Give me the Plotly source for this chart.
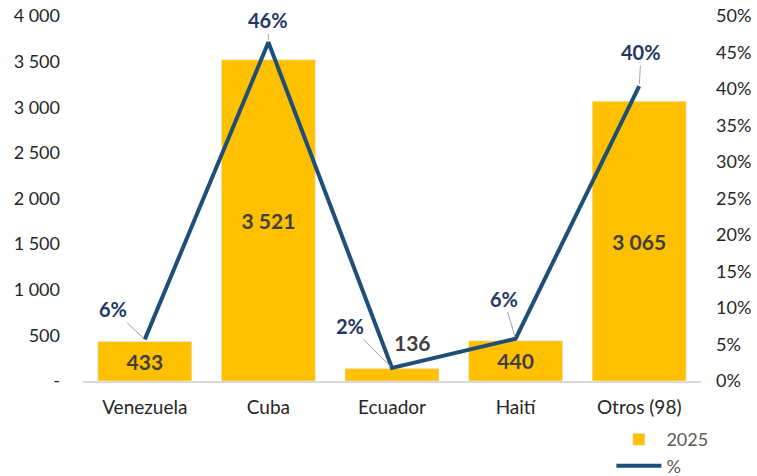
import plotly.graph_objects as go

countries = ['Venezuela', 'Cuba', 'Ecuador', 'Haití', 'Otros (98)']
values_2025 = [433, 3521, 136, 440, 3065]
share_pct = [5.7, 46.4, 1.8, 5.8, 40.4]
bar_labels = ['433', '3 521', '136', '440', '3 065']

left_ticks = [0, 500, 1000, 1500, 2000, 2500, 3000, 3500, 4000]
left_ticktext = ['-', '500', '1 000', '1 500', '2 000', '2 500', '3 000', '3 500', '4 000']

YELLOW = '#FFC000'
NAVY = '#1F4E79'
LABEL_NAVY = '#1F3864'
FONT = 'Lato'

fig = go.Figure()

# Ecuador's value sits above its bar, so it gets an annotation instead
inside_text = [t if c != 'Ecuador' else '' for c, t in zip(countries, bar_labels)]
fig.add_trace(go.Bar(
    x=countries, y=values_2025, name='2025',
    marker_color=YELLOW, width=0.76,
    text=inside_text, textposition='inside', insidetextanchor='middle',
    textfont=dict(family=FONT, size=21, color='#404040', weight='bold'),
    textangle=0,
))
fig.add_trace(go.Scatter(
    x=countries, y=share_pct, name='%', yaxis='y2',
    mode='lines', line=dict(color=NAVY, width=4),
))

fig.add_annotation(
    x='Ecuador', y=values_2025[2], yref='y', text=bar_labels[2],
    showarrow=False, xshift=20, yshift=26,
    font=dict(family=FONT, size=21, color='#404040', weight='bold'),
)

# percentage labels with grey leader lines
offsets = [(-32, -30), (0, -22), (-42, -42), (-12, -40), (2, -34)]
for c, v, (ax, ay) in zip(countries, share_pct, offsets):
    fig.add_annotation(
        x=c, y=v, yref='y2', text=f'{round(v)}%',
        showarrow=True, arrowhead=0, arrowwidth=1, arrowcolor='#A6A6A6',
        ax=ax, ay=ay, standoff=2,
        font=dict(family=FONT, size=20, color=LABEL_NAVY, weight='bold'),
    )

fig.update_layout(
    width=757, height=476,
    margin=dict(l=83, r=56, t=16, b=95, autoexpand=False),
    plot_bgcolor='white', paper_bgcolor='white',
    font=dict(family=FONT, size=18, color='#262626'),
    showlegend=True,
    legend=dict(
        orientation='v', x=0.855, y=-0.11, xanchor='left', yanchor='top',
        font=dict(family=FONT, size=18, color='#595959'),
        tracegroupgap=0, itemwidth=45,
    ),
    xaxis=dict(
        showline=True, linecolor='#D9D9D9', linewidth=1.5,
        ticks='', ticklabelstandoff=8,
        tickfont=dict(size=19, color='#262626'),
    ),
    yaxis=dict(
        range=[0, 4000], tickvals=left_ticks, ticktext=left_ticktext,
        showgrid=False, zeroline=False, ticks='', ticklabelstandoff=22,
        tickfont=dict(size=18, color='#262626'),
    ),
    yaxis2=dict(
        overlaying='y', side='right', range=[0, 50], dtick=5,
        ticksuffix='%', showgrid=False, zeroline=False, ticks='',
        ticklabelstandoff=14,
        tickfont=dict(size=18, color='#262626'),
    ),
)

# drop the browser's default body margin so the figure fills the window
fig.write_html('out.html', config={'displayModeBar': False},
               post_script="document.body.style.margin='0';")
